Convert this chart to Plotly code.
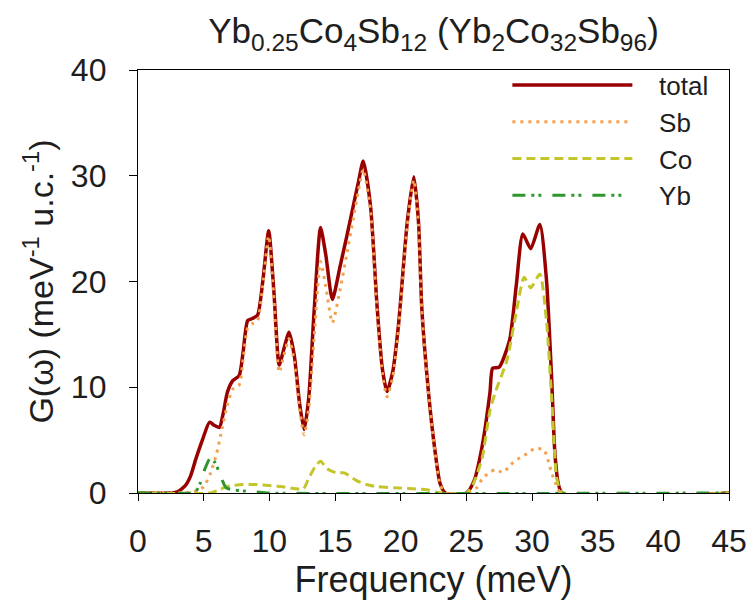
import plotly.graph_objects as go

# ---- data ----
x_total = [0, 2.5, 3.0, 3.6, 4.0, 4.4, 4.9, 5.45, 5.8, 6.2, 6.5, 6.8, 7.2, 7.7, 8.0, 8.35, 8.7, 9.1,
           9.5, 9.95, 10.35, 10.75, 11.1, 11.5, 11.9, 12.3, 12.65, 13.0, 13.4, 13.9, 14.3, 14.8, 15.4,
           15.9, 16.4, 16.8, 17.15, 17.7, 18.2, 18.6, 18.96, 19.4, 19.85, 20.5, 21.0, 21.36, 21.6,
           21.98, 22.5, 23.0, 23.4, 25.0, 25.6, 26.2, 26.8, 27.0, 27.5, 28.3, 28.8, 29.3, 29.9, 30.6,
           31.1, 31.5, 31.8, 32.3, 45]
y_total = [0, 0, 0.1, 0.7, 1.6, 3.2, 5.0, 6.7, 6.4, 6.2, 7.6, 9.5, 10.6, 11.1, 13.3, 16.3, 16.5, 16.8,
           20.0, 24.8, 19.0, 12.1, 13.6, 15.2, 13.0, 8.5, 6.0, 9.0, 17.0, 25.1, 22.5, 18.3, 21.5,
           24.3, 27.2, 29.5, 31.4, 27.2, 17.7, 11.8, 9.6, 11.5, 16.1, 25.6, 29.9, 25.6, 17.7,
           11.4, 5.1, 0.9, 0, 0, 1.2, 4.4, 9.5, 11.8, 11.9, 14.5, 19.6, 24.5, 23.1, 25.4,
           20.2, 10.7, 2.9, 0, 0]

x_sb = [0, 4.0, 4.5, 5.0, 5.5, 6.0, 6.3, 6.8, 7.2, 7.7, 8.0, 8.35, 8.7, 9.1, 9.5, 9.95, 10.35, 10.75,
        11.1, 11.5, 11.9, 12.3, 12.65, 13.0, 13.4, 13.9, 14.3, 14.8, 15.4, 15.9, 16.4, 16.8, 17.15,
        17.7, 18.2, 18.6, 18.96, 19.4, 19.85, 20.5, 21.0, 21.36, 21.6, 21.98, 22.5, 23.0, 23.4,
        25.3, 25.8, 26.2, 26.7, 27.2, 27.8, 28.4, 28.9, 29.6, 30.2, 30.9, 31.2, 31.5, 31.8, 32.2, 45]
y_sb = [0, 0.05, 0.2, 0.6, 1.8, 3.8, 5.5, 8.3, 9.8, 10.2, 12.6, 15.6, 16.0, 16.3, 19.6, 24.3, 18.4, 11.4,
        13.0, 14.6, 12.4, 8.0, 5.5, 8.0, 14.5, 21.9, 19.5, 16.1, 19.3, 22.6, 26.0, 28.7, 30.6,
        26.8, 17.3, 11.4, 9.1, 11.0, 15.7, 25.2, 29.6, 25.3, 17.5, 11.2, 5.0, 0.8, 0,
        0, 0.5, 1.3, 1.9, 2.2, 1.95, 2.7, 3.2, 3.7, 4.2, 4.1, 3.2, 1.9, 0.9, 0, 0]

x_co = [0, 5.5, 6.2, 6.7, 7.2, 8.0, 9.0, 10.0, 11.0, 12.0, 12.6, 13.0, 13.5, 13.9, 14.4, 15.1, 15.7,
        16.6, 17.4, 18.2, 19.5, 21.0, 22.0, 22.8, 25.0, 25.5, 26.2, 26.8, 27.2, 28.1, 28.8, 29.4,
        29.9, 30.6, 31.1, 31.5, 31.9, 32.3, 45]
y_co = [0, 0, 0.3, 0.6, 0.7, 0.8, 0.8, 0.7, 0.6, 0.4, 0.4, 1.4, 2.5, 3.0, 2.3, 1.9, 1.9,
        1.2, 0.8, 0.6, 0.5, 0.4, 0.3, 0.05, 0, 0.8, 3.3, 7.8, 9.5, 12.6, 17.1, 20.4,
        19.4, 20.7, 16.3, 9.0, 1.3, 0, 0]

x_yb = [0, 4.0, 4.4, 4.75, 5.1, 5.5, 5.85, 6.2, 6.45, 6.7, 7.2, 8.0, 9.0, 10.0, 45]
y_yb = [0, 0, 0.15, 0.95, 2.3, 3.3, 2.9, 1.9, 1.1, 0.5, 0.3, 0.2, 0.1, 0, 0]

x_ticks = [0, 5, 10, 15, 20, 25, 30, 35, 40, 45]
y_ticks = [0, 10, 20, 30, 40]

FONT = "Liberation Sans, Arial, sans-serif"
TXT = "#1e1e1e"
GAP = "&nbsp;&nbsp;&nbsp;"

fig = go.Figure()
fig.add_trace(go.Scatter(x=x_total, y=y_total, name=GAP + "total", mode="lines",
                         line=dict(color="#990000", width=3.5, shape="spline", smoothing=0.6)))
fig.add_trace(go.Scatter(x=x_sb, y=y_sb, name=GAP + "Sb", mode="lines",
                         line=dict(color="#F2A24E", width=3, dash="3px,5px", shape="spline", smoothing=0.6)))
fig.add_trace(go.Scatter(x=x_co, y=y_co, name=GAP + "Co", mode="lines",
                         line=dict(color="#C2C62A", width=3, dash="9px,5px", shape="spline", smoothing=0.6)))
fig.add_trace(go.Scatter(x=x_yb, y=y_yb, name=GAP + "Yb", mode="lines",
                         line=dict(color="#2E962E", width=3, dash="13px,6px,3px,4px,3px,11px",
                                   shape="spline", smoothing=0.6)))

fig.update_layout(
    width=750, height=600,
    margin=dict(l=138, r=21, t=70, b=107, autoexpand=False),
    paper_bgcolor="white", plot_bgcolor="white",
    font=dict(family=FONT, color=TXT),
    title=dict(
        text="Yb<sub>0.25</sub>Co<sub>4</sub>Sb<sub>12</sub> (Yb<sub>2</sub>Co<sub>32</sub>Sb<sub>96</sub>)",
        x=0.578, xanchor="center", y=0.948, yanchor="middle",
        font=dict(size=35, family=FONT, color=TXT)),
    showlegend=True,
    legend=dict(x=0.625, y=1.02, xanchor="left", yanchor="top", bgcolor="rgba(0,0,0,0)",
                font=dict(size=26, family=FONT, color=TXT),
                itemwidth=120, tracegroupgap=0),
    xaxis=dict(range=[0, 45], tickvals=x_ticks, ticks="outside", ticklen=7, tickwidth=1,
               tickcolor="black", showline=True, linecolor="black", linewidth=1.3, mirror=True,
               showgrid=False, zeroline=False, ticklabelstandoff=12,
               tickfont=dict(size=32, family=FONT, color=TXT),
               title=dict(text="Frequency (meV)", font=dict(size=36, family=FONT, color=TXT),
                          standoff=4)),
    yaxis=dict(range=[0, 40], tickvals=y_ticks, ticks="outside", ticklen=8, tickwidth=1,
               tickcolor="black", showline=True, linecolor="black", linewidth=1.3, mirror=True,
               showgrid=False, zeroline=False, ticklabelstandoff=16,
               tickfont=dict(size=32, family=FONT, color=TXT),
               title=dict(text="G(ω) (meV<sup>-1</sup> u.c.<sup>-1</sup>)",
                          font=dict(size=34, family=FONT, color=TXT), standoff=6)),
)

fig.write_html("out.html")
